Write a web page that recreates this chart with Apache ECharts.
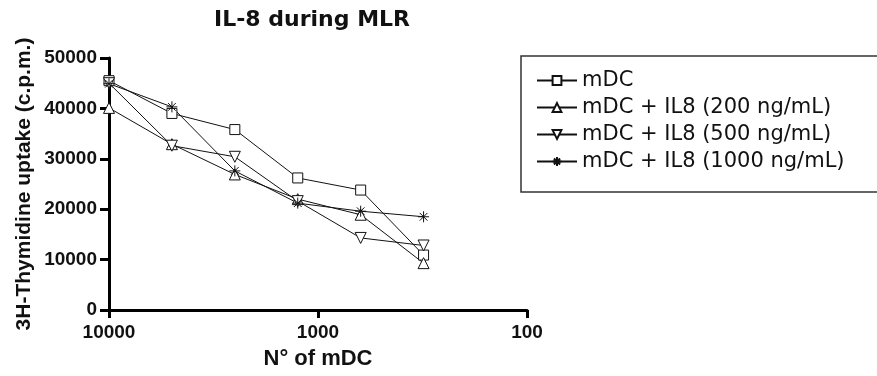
<!DOCTYPE html>
<html>
<head>
<meta charset="utf-8">
<script src="https://cdn.jsdelivr.net/npm/echarts@6/dist/echarts.min.js"></script>
<style>
  html, body { margin: 0; padding: 0; background: #fff; }
  #chart { width: 877px; height: 376px; }
</style>
</head>
<body>
<div id="chart"></div>
<script>
// number of mDC per well (log axis, reversed)
const cellCounts = [10000, 5000, 2500, 1250, 625, 312.5]
const xTicks = [10000, 1000, 100]
const yTicks = [0, 10000, 20000, 30000, 40000, 50000]

const seriesNames = [
  'mDC',
  'mDC + IL8 (200 ng/mL)',
  'mDC + IL8 (500 ng/mL)',
  'mDC + IL8 (1000 ng/mL)',
]
const mdc = [45500, 39000, 35800, 26200, 23800, 10900]
const il8_200 = [40100, 32900, 26900, 22000, 18900, 9300]
const il8_500 = [45000, 32600, 30400, 21600, 14300, 12800]
const il8_1000 = [44900, 40300, 27600, 21200, 19600, 18500]

const asterisk = 'path://M5,0L5,10M0,5L10,5M1.5,1.5L8.5,8.5M1.5,8.5L8.5,1.5'

const chart = echarts.init(document.getElementById('chart'))

const pairs = (ys) => cellCounts.map((x, i) => [x, ys[i]])

const lineSeries = (name, ys, symbol, rotate) => ({
  name,
  type: 'line',
  data: pairs(ys),
  symbol,
  symbolSize: symbol === 'rect' ? 10 : 11,
  symbolRotate: rotate || 0,
  lineStyle: { color: '#111', width: 1 },
  itemStyle: { color: symbol === asterisk ? 'none' : '#fff', borderColor: '#111', borderWidth: 1 },
  emphasis: { disabled: true },
  animation: false,
})

chart.setOption({
  animation: false,
  title: {
    text: 'IL-8 during MLR',
    left: 209,
    top: 4,
    textStyle: { fontFamily: 'DejaVu Sans', fontWeight: 'bold', fontSize: 22, color: '#111' },
  },
  legend: {
    orient: 'vertical',
    left: 521,
    top: 56,
    padding: [14, 400, 20, 15],
    itemWidth: 40,
    itemHeight: 11,
    itemGap: 6,
    borderColor: '#333',
    borderWidth: 1.5,
    textStyle: { fontFamily: 'DejaVu Sans', fontSize: 21, lineHeight: 20, color: '#111' },
    data: seriesNames,
  },
  grid: { left: 109, right: 350, top: 58, bottom: 66 },
  xAxis: {
    type: 'log',
    logBase: 10,
    min: xTicks[xTicks.length - 1],
    max: xTicks[0],
    inverse: true,
    name: 'N° of mDC',
    nameLocation: 'middle',
    nameGap: 38,
    nameTextStyle: { fontFamily: 'Liberation Sans', fontWeight: 'bold', fontSize: 22, color: '#111' },
    axisLine: { lineStyle: { color: '#000', width: 3 } },
    axisTick: { length: 8, lineStyle: { color: '#000', width: 3 } },
    axisLabel: {
      margin: 13,
      fontFamily: 'Liberation Sans',
      fontWeight: 'bold',
      fontSize: 19,
      color: '#111',
      formatter: (v) => String(Math.round(v)),
    },
    splitLine: { show: false },
    minorTick: { show: false },
  },
  yAxis: {
    type: 'value',
    min: yTicks[0],
    max: yTicks[yTicks.length - 1],
    interval: yTicks[1] - yTicks[0],
    name: '3H-Thymidine uptake (c.p.m.)',
    nameLocation: 'middle',
    nameGap: 74,
    nameTextStyle: { fontFamily: 'Liberation Sans', fontWeight: 'bold', fontSize: 21, color: '#111' },
    axisLine: { show: true, lineStyle: { color: '#000', width: 3 } },
    axisTick: { show: true, length: 9, lineStyle: { color: '#000', width: 3 } },
    axisLabel: {
      margin: 12,
      fontFamily: 'Liberation Sans',
      fontWeight: 'bold',
      fontSize: 19,
      color: '#111',
      formatter: (v) => String(v),
    },
    splitLine: { show: false },
  },
  series: [
    lineSeries(seriesNames[0], mdc, 'rect'),
    lineSeries(seriesNames[1], il8_200, 'triangle'),
    lineSeries(seriesNames[2], il8_500, 'triangle', 180),
    lineSeries(seriesNames[3], il8_1000, asterisk),
  ],
})
</script>
</body>
</html>
